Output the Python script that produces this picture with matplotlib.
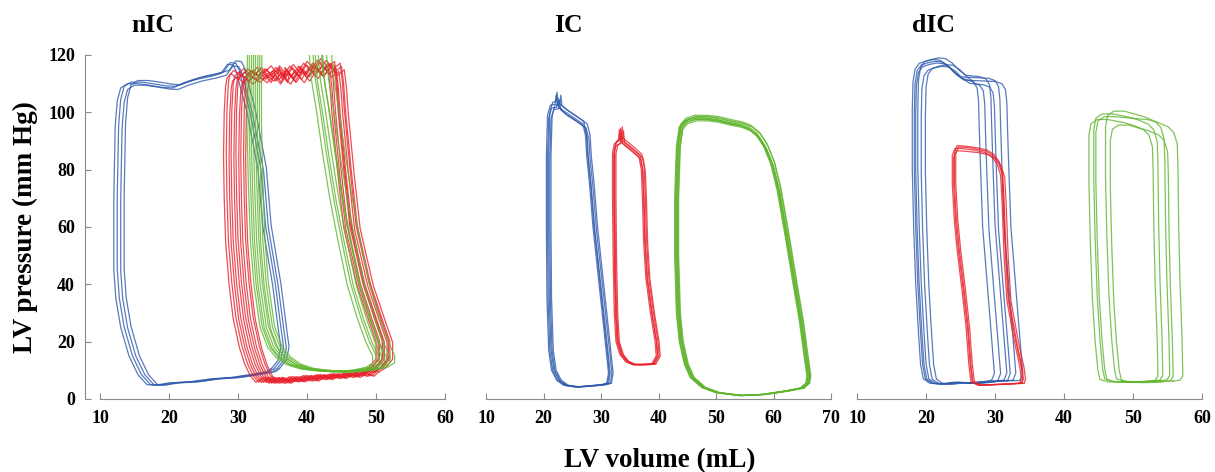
import matplotlib
matplotlib.use("Agg")
import matplotlib.pyplot as plt

# traced pressure-volume loops: (volume mL, pressure mmHg)
# each loop = right half (ejection side) + left half (filling side);
# per beat: (left shift, right shift, pressure scale)

BLUE = "#2e5aac"
RED = "#e8212b"
GREEN = "#5fb52d"

# ---- nIC ----
nic_blue_right = [(34.8, 10.5), (35.8, 13.5), (36.2, 18), (35.8, 25), (35.0, 40), (34.3, 50),
                  (33.6, 60), (32.9, 80), (31.3, 100), (30.2, 110), (29.8, 114), (29.3, 116.5),
                  (28.5, 116.8), (28.0, 115.2), (27.5, 113.5), (26.0, 112.5), (24.0, 111.5),
                  (22.0, 110), (20.5, 108.5)]
nic_blue_left = [(19.0, 108.7), (17.0, 109.5), (15.5, 110), (14.0, 110), (13.0, 108.5),
                 (12.5, 104), (12.2, 95), (12.0, 70), (12.0, 45), (12.3, 35), (13.0, 25),
                 (14.2, 15), (15.5, 8.5), (16.8, 5), (18.0, 4.8), (20.0, 5.6), (23.0, 6),
                 (26.0, 7), (29.0, 7.5), (32.0, 8.6), (34.0, 9.5)]
nic_blue_beats = [(0.0, 0.0, 1.0), (0.5, 0.4, 1.005), (1.0, 0.8, 0.995), (1.5, 1.2, 1.01)]

nic_red_right = [(48.0, 9.5), (49.0, 11), (50.0, 14), (50.0, 20), (49.0, 27), (47.2, 40),
                 (45.3, 60), (44.4, 80), (43.6, 100), (43.3, 110), (43.0, 116), (42.0, 114),
                 (41.0, 117), (40.0, 113.5), (39.0, 116), (38.0, 112), (37.0, 115),
                 (36.0, 111.5), (35.0, 114.5)]
nic_red_left = [(34.0, 111.5), (33.0, 114.5), (32.0, 112), (31.0, 114), (30.0, 111.5),
                (29.0, 113.5), (28.4, 112), (28.2, 109), (28.0, 100), (27.9, 85), (28.0, 70),
                (28.2, 55), (28.7, 40), (29.3, 28), (30.2, 18), (31.0, 12), (31.8, 8),
                (32.6, 5.8), (33.5, 7.5), (34.5, 5.5), (35.5, 7.3), (36.5, 6), (37.5, 7.8),
                (38.5, 6.3), (39.5, 8.2), (40.5, 6.8), (41.5, 8.5), (42.5, 7.2), (43.5, 8.8),
                (44.5, 7.6), (45.5, 9.2), (46.5, 8), (47.2, 9.6)]
nic_red_beats = [(0.0, 0.0, 1.0), (0.4, 0.5, 1.01), (0.8, 0.3, 0.99), (1.1, 0.9, 1.005),
                 (1.5, 1.2, 0.995), (1.8, 1.0, 1.015), (2.2, 1.6, 0.985), (2.5, 2.0, 1.0),
                 (2.9, 1.8, 1.01), (3.2, 2.4, 0.99)]

nic_green_right = [(44.0, 9.5), (46.5, 10), (48.5, 11), (49.5, 12.5), (49.5, 15), (48.5, 20),
                   (47.3, 28), (45.8, 40), (44.5, 55), (43.3, 70), (42.3, 85), (41.4, 100),
                   (40.6, 112), (40.2, 124)]
nic_green_left = [(31.4, 124), (31.3, 110), (31.3, 95), (31.5, 75), (31.8, 55), (32.3, 40),
                  (33.2, 25), (34.3, 18), (35.5, 14.5), (37.0, 12), (39.0, 10.5), (41.5, 9.8)]
nic_green_beats = [(0.0, 0.0, 1.0), (0.3, 0.5, 1.01), (0.6, 0.9, 0.99), (0.9, 1.3, 1.0),
                   (1.2, 1.7, 1.02), (1.5, 2.0, 0.98), (1.8, 2.5, 1.0), (2.1, 3.2, 1.01)]

# ---- IC ----
ic_blue_right = [(31.0, 5.5), (31.3, 9), (31.0, 15), (30.2, 30), (29.4, 45), (28.6, 60),
                 (28.0, 75), (27.5, 85), (27.3, 92), (26.8, 96), (25.0, 98.5), (23.5, 100.5),
                 (22.4, 102.5), (22.2, 106), (22.0, 102.8)]
ic_blue_left = [(21.2, 102.5), (20.7, 99), (20.5, 85), (20.5, 60), (20.6, 35), (20.9, 17),
                (21.4, 10), (22.3, 6.5), (23.5, 4.8), (25.5, 4.2), (28.0, 4.6), (30.0, 5)]
ic_blue_beats = [(0.0, 0.0, 1.0), (0.2, 0.3, 0.99), (0.4, 0.15, 1.01), (0.6, 0.6, 0.985),
                 (0.8, 0.8, 1.0)]

ic_red_right = [(38.8, 12.2), (39.6, 15), (39.4, 20), (38.6, 30), (37.8, 42), (37.4, 55),
                (37.2, 70), (37.0, 80), (36.6, 84.5), (35.5, 86.5), (34.3, 88.5), (33.4, 90),
                (33.2, 94), (33.0, 90)]
ic_red_left = [(32.3, 89), (32.0, 86), (32.0, 70), (32.1, 50), (32.3, 30), (32.6, 20),
               (33.3, 15.5), (34.3, 13), (35.5, 12), (37.0, 12)]
ic_red_beats = [(0.0, 0.0, 1.0), (0.2, 0.3, 0.99), (0.4, 0.5, 1.01), (0.6, 0.7, 0.995),
                (0.3, 0.2, 1.005)]

ic_green_right = [(64.6, 3.8), (65.6, 5.5), (65.8, 8), (65.3, 15), (64.5, 27), (63.4, 40),
                  (62.0, 57), (60.6, 73), (59.5, 82), (58.3, 88), (57.0, 92), (55.5, 94.5),
                  (54.0, 95.7), (52.0, 96.5), (50.0, 97.5)]
ic_green_left = [(48.0, 98), (46.0, 98), (44.5, 97), (43.6, 95), (43.1, 88), (42.8, 70),
                 (42.8, 50), (43.1, 30), (43.6, 20), (44.5, 12), (45.5, 7.5), (47.5, 4),
                 (50.0, 2.2), (54.0, 1.2), (58.0, 1.6), (62.0, 2.8)]
ic_green_beats = [(0.0, 0.0, 1.0), (0.2, 0.3, 0.995), (0.4, 0.2, 1.005), (0.6, 0.5, 0.99),
                  (0.3, 0.6, 1.01), (0.5, 0.4, 0.995), (0.1, 0.1, 1.0), (0.7, 0.7, 1.005)]

# ---- dIC ----
dic_blue_right = [(29.5, 6.5), (29.9, 9), (29.7, 15), (29.2, 30), (28.7, 45), (28.2, 60),
                  (27.9, 80), (27.7, 95), (27.6, 104), (27.4, 108.5), (26.9, 110.5),
                  (26.0, 111.3)]
dic_blue_left = [(25.0, 111.8), (24.0, 113.5), (23.0, 116), (22.0, 117.6), (21.0, 117.8),
                 (20.0, 117.3), (19.0, 116.5), (18.4, 114.5), (18.1, 110),
                 (18.0, 100), (18.0, 80), (18.2, 60), (18.5, 40), (18.9, 23), (19.2, 12),
                 (19.6, 7), (20.5, 5.5), (22.0, 5.2), (24.0, 5.8), (26.0, 5.5), (28.0, 6)]
dic_blue_beats = [(0.3, 0.0, 1.0), (1.9, 0.9, 0.99), (0.8, 1.8, 1.01), (1.3, 2.3, 0.985),
                  (0.0, 3.1, 1.005), (0.5, 4.1, 0.995)]

dic_red_right = [(33.6, 5.5), (33.8, 7), (33.6, 11), (32.8, 20), (31.7, 34.5), (31.3, 50),
                 (31.0, 69), (30.8, 78), (30.3, 82), (29.5, 84.5), (28.5, 86), (27.0, 86.8)]
dic_red_left = [(25.5, 87.3), (24.2, 87.5), (23.8, 85), (23.8, 75), (24.1, 62), (24.5, 52),
                (25.2, 38), (25.8, 25), (26.2, 12), (26.5, 6), (27.5, 4.8), (29.5, 5),
                (31.5, 5.2)]
dic_red_beats = [(0.0, 0.0, 1.0), (0.3, 0.3, 1.01), (0.2, 0.6, 0.99), (0.5, 0.2, 1.005)]

dic_green_right = [(52.2, 6.2), (53.2, 6.5), (53.6, 8), (53.5, 20), (53.2, 40), (53.0, 60),
                   (52.9, 80), (52.8, 88), (52.3, 92), (51.5, 94), (50.0, 95.5), (48.5, 96.5)]
dic_green_left = [(46.3, 97.5), (44.8, 97.5), (43.9, 96), (43.6, 92), (43.6, 75), (43.8, 55),
                  (44.1, 35), (44.5, 20), (44.9, 10), (45.2, 6.8), (46.3, 6), (48.5, 5.8),
                  (51.0, 6)]
dic_green_beats = [(0.0, 0.0, 1.0), (0.7, 0.7, 1.02), (2.4, 1.7, 1.03), (3.1, 2.2, 0.98),
                   (1.0, 3.6, 1.01)]

titles = ["nIC", "IC", "dIC"]
xlims = [(10, 60), (10, 70), (10, 60)]
xticks = [[10, 20, 30, 40, 50, 60], [10, 20, 30, 40, 50, 60, 70], [10, 20, 30, 40, 50, 60]]
yticks = [0, 20, 40, 60, 80, 100, 120]

panels = [
    [(nic_blue_right, nic_blue_left, nic_blue_beats, BLUE),
     (nic_red_right, nic_red_left, nic_red_beats, RED),
     (nic_green_right, nic_green_left, nic_green_beats, GREEN)],
    [(ic_blue_right, ic_blue_left, ic_blue_beats, BLUE),
     (ic_red_right, ic_red_left, ic_red_beats, RED),
     (ic_green_right, ic_green_left, ic_green_beats, GREEN)],
    [(dic_blue_right, dic_blue_left, dic_blue_beats, BLUE),
     (dic_green_right, dic_green_left, dic_green_beats, GREEN),
     (dic_red_right, dic_red_left, dic_red_beats, RED)],
]


def draw_loops(ax, right, left, beats, color):
    for dl, dr, ps in beats:
        v = [x + dr for x, _ in right] + [x + dl for x, _ in left]
        p = [y * ps for _, y in right] + [y * ps for _, y in left]
        v.append(v[0])
        p.append(p[0])
        ax.plot(v, p, color=color, lw=0.9, alpha=0.8, solid_joinstyle="round")


FONT = "Liberation Serif"
AXIS_GRAY = "#8a8a8a"

fig = plt.figure(figsize=(12.15, 4.72), dpi=100)
lefts = [0.0823, 0.4, 0.7054]
bottom, width, height = 0.1547, 0.284, 0.7288
title_x = [0.126, 0.468, 0.768]

for i in range(3):
    ax = fig.add_axes([lefts[i], bottom, width, height])
    for right, left, beats, color in panels[i]:
        draw_loops(ax, right, left, beats, color)
    ax.set_xlim(*xlims[i])
    ax.set_ylim(0, 120)
    ax.set_xticks(xticks[i])
    ax.spines["top"].set_visible(False)
    ax.spines["right"].set_visible(False)
    ax.spines["bottom"].set_color(AXIS_GRAY)
    ax.spines["left"].set_color(AXIS_GRAY)
    ax.tick_params(axis="x", direction="in", length=4, color=AXIS_GRAY, pad=8)
    if i == 0:
        ax.set_yticks(yticks)
        ax.spines["left"].set_position(("outward", 11))
        ax.tick_params(axis="y", direction="in", length=4, color=AXIS_GRAY, pad=7)
    else:
        ax.spines["left"].set_visible(False)
        ax.set_yticks([])
    for lab in ax.get_xticklabels() + ax.get_yticklabels():
        lab.set_fontfamily(FONT)
        lab.set_fontweight("bold")
        lab.set_fontsize(13)
    fig.text(title_x[i], 0.947, titles[i], fontfamily=FONT, fontweight="bold",
             fontsize=18.5, ha="center", va="center")

fig.text(0.0206, 0.518, "LV pressure (mm Hg)", rotation=90, fontfamily=FONT,
         fontweight="bold", fontsize=19.5, ha="center", va="center")
fig.text(0.543, 0.025, "LV volume (mL)", fontfamily=FONT, fontweight="bold",
         fontsize=19.5, ha="center", va="center")

fig.savefig("out.png", dpi=100)
plt.close(fig)
